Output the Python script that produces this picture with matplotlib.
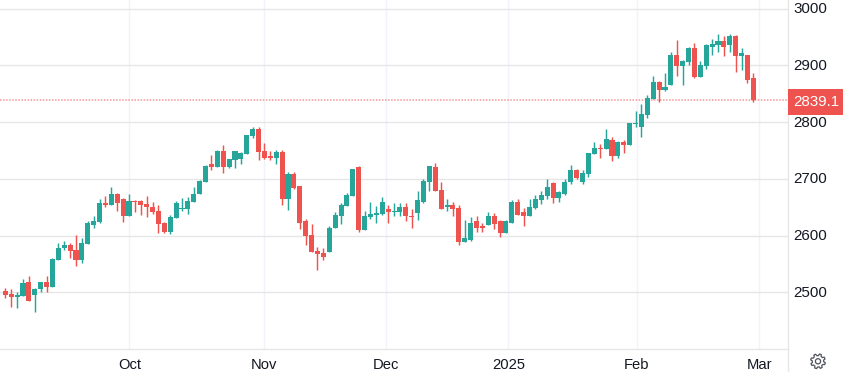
import numpy as np
import matplotlib
matplotlib.use("Agg")
import matplotlib.pyplot as plt
from matplotlib.patches import Circle, Polygon, Rectangle
from matplotlib.transforms import ScaledTranslation

opens = [2502, 2497, 2492, 2494, 2518, 2495, 2506, 2518, 2509, 2557, 2578, 2583, 2575, 2557, 2585, 2619,
         2624, 2657, 2654, 2673, 2664, 2635, 2661, 2661, 2656, 2650, 2643, 2622, 2606, 2631, 2647, 2647,
         2659, 2673, 2694, 2726, 2720, 2749, 2720, 2733, 2735, 2743, 2775, 2787, 2749, 2740, 2736, 2747,
         2664, 2708, 2687, 2625, 2601, 2572, 2569, 2571, 2613, 2634, 2652, 2669, 2720, 2609, 2632, 2636,
         2638, 2646, 2641, 2642, 2651, 2635, 2639, 2660, 2695, 2720, 2681, 2651, 2653, 2648, 2588, 2593,
         2625, 2616, 2618, 2634, 2625, 2605, 2623, 2660, 2642, 2634, 2649, 2662, 2669, 2692, 2667, 2674,
         2694, 2715, 2695, 2709, 2743, 2755, 2753, 2768, 2741, 2764, 2759, 2796, 2792, 2813, 2840, 2870,
         2857, 2866, 2919, 2898, 2905, 2931, 2879, 2898, 2933, 2935, 2942, 2935, 2951, 2917, 2919, 2877]
highs = [2508, 2506, 2501, 2523, 2529, 2508, 2518, 2529, 2561, 2587, 2590, 2587, 2601, 2596, 2626, 2635,
         2664, 2670, 2686, 2675, 2666, 2673, 2663, 2663, 2670, 2659, 2654, 2624, 2636, 2661, 2666, 2668,
         2686, 2698, 2724, 2742, 2750, 2759, 2735, 2749, 2747, 2777, 2791, 2791, 2763, 2749, 2750, 2750,
         2712, 2712, 2687, 2629, 2620, 2579, 2578, 2616, 2641, 2657, 2675, 2717, 2722, 2643, 2659, 2652,
         2668, 2653, 2657, 2658, 2657, 2646, 2678, 2699, 2722, 2727, 2694, 2665, 2660, 2653, 2627, 2632,
         2634, 2623, 2641, 2639, 2628, 2628, 2662, 2665, 2649, 2665, 2671, 2679, 2699, 2694, 2679, 2699,
         2725, 2718, 2715, 2746, 2764, 2761, 2787, 2773, 2766, 2768, 2799, 2819, 2831, 2847, 2882, 2873,
         2887, 2923, 2944, 2910, 2933, 2940, 2907, 2937, 2947, 2956, 2951, 2956, 2953, 2931, 2919, 2886]
lows = [2490, 2474, 2472, 2494, 2485, 2465, 2501, 2501, 2509, 2557, 2575, 2561, 2546, 2552, 2585, 2613,
        2622, 2650, 2654, 2643, 2624, 2635, 2642, 2636, 2633, 2638, 2605, 2605, 2603, 2631, 2643, 2638,
        2659, 2673, 2694, 2715, 2720, 2710, 2719, 2719, 2726, 2743, 2772, 2733, 2735, 2733, 2726, 2653,
        2645, 2682, 2611, 2583, 2571, 2539, 2557, 2571, 2613, 2620, 2652, 2669, 2606, 2609, 2629, 2622,
        2636, 2623, 2635, 2634, 2625, 2614, 2628, 2658, 2678, 2678, 2646, 2644, 2634, 2584, 2588, 2591,
        2607, 2607, 2618, 2612, 2597, 2604, 2623, 2637, 2616, 2634, 2646, 2655, 2664, 2658, 2660, 2671,
        2690, 2699, 2690, 2704, 2743, 2736, 2753, 2731, 2736, 2745, 2759, 2792, 2773, 2808, 2840, 2835,
        2854, 2866, 2882, 2866, 2901, 2877, 2879, 2893, 2919, 2924, 2917, 2923, 2889, 2891, 2868, 2835]
closes = [2495, 2492, 2495, 2516, 2485, 2506, 2518, 2509, 2559, 2578, 2583, 2573, 2557, 2587, 2622, 2626,
          2657, 2654, 2673, 2657, 2635, 2661, 2659, 2654, 2650, 2642, 2620, 2606, 2633, 2657, 2649, 2661,
          2673, 2696, 2722, 2720, 2749, 2720, 2735, 2749, 2745, 2777, 2787, 2747, 2736, 2736, 2747, 2664,
          2708, 2683, 2623, 2599, 2571, 2567, 2562, 2613, 2636, 2653, 2671, 2717, 2609, 2634, 2638, 2639,
          2659, 2641, 2644, 2651, 2634, 2632, 2662, 2697, 2722, 2679, 2646, 2653, 2646, 2588, 2595, 2623,
          2614, 2614, 2634, 2620, 2605, 2625, 2660, 2637, 2634, 2651, 2664, 2671, 2686, 2667, 2676, 2695,
          2715, 2701, 2711, 2745, 2755, 2753, 2771, 2741, 2764, 2759, 2798, 2798, 2815, 2842, 2870, 2857,
          2861, 2919, 2898, 2907, 2931, 2880, 2900, 2935, 2937, 2942, 2933, 2951, 2917, 2921, 2875, 2839.1]

y_ticks = [2500, 2600, 2700, 2800, 2900, 3000]
x_labels = ["Oct", "Nov", "Dec", "2025", "Feb", "Mar"]
x_ticks = [21.05, 43.97, 64.7, 85.4, 107.2, 128.0]
last_price = closes[-1]

GREEN = "#26a69a"
RED = "#ef5350"
TEXT = "#131722"

plt.rcParams["font.family"] = ["Liberation Sans", "DejaVu Sans"]

W, H = 843, 372
fig = plt.figure(figsize=(W / 100, H / 100), dpi=100, facecolor="white")
ax = fig.add_axes([0, (H - 349) / H, 787.5 / W, 349 / H])

idx = np.arange(len(opens))
o = np.array(opens)
c = np.array(closes)
colors = [GREEN if b >= a else RED for a, b in zip(opens, closes)]

# wicks then bodies
ax.vlines(idx, lows, highs, colors=colors, linewidth=1.05, zorder=3)
ax.bar(idx, np.abs(c - o), bottom=np.minimum(o, c), width=0.86, color=colors, linewidth=0, zorder=4)

# last price line
ax.axhline(last_price, color=RED, alpha=0.6, linewidth=1.1, linestyle=(0, (1, 1)), zorder=2)

ax.set_xlim(-0.9, 132.8)
ax.set_ylim(2400.1, 3015.1)
ax.set_xticks(x_ticks)
ax.set_xticklabels(x_labels)
ax.set_yticks(y_ticks)
ax.yaxis.tick_right()
ax.tick_params(axis="x", length=0, pad=6.5, labelsize=10.6, labelcolor=TEXT)
ax.tick_params(axis="y", length=0, pad=4.2, labelsize=10.9, labelcolor=TEXT)
ax.grid(axis="x", color="#f0f3fa", linewidth=1, zorder=0)
ax.grid(axis="y", color="#e6e6e6", linewidth=1, zorder=0)
ax.set_axisbelow(True)
for s in ["top", "left"]:
    ax.spines[s].set_visible(False)
for s in ["bottom", "right"]:
    ax.spines[s].set_color("#e6e6e6")
    ax.spines[s].set_linewidth(1)

# y labels sit a pixel above their gridline
up = ScaledTranslation(0, 1 / 100, fig.dpi_scale_trans)
for lab in ax.get_yticklabels():
    lab.set_transform(lab.get_transform() + up)

# overlay in pixel coords for price tag and settings icon
top = fig.add_axes([0, 0, 1, 1], facecolor="none")
top.set_xlim(0, W)
top.set_ylim(H, 0)
top.axis("off")
top.plot([787.5, 787.5], [349, 372], color="#e6e6e6", linewidth=1)
top.add_patch(Rectangle((788, 89), 55, 26, facecolor=RED, edgecolor="none"))
top.text(816, 102.5, "%.1f" % last_price, color="white", fontsize=10.9, ha="center", va="center")

ang = np.linspace(0, 2 * np.pi, 48, endpoint=False) + np.pi / 16
rad = np.where((np.arange(48) % 6) < 3, 7.4, 5.7)
top.add_patch(Polygon(np.c_[818 + rad * np.cos(ang), 361.3 + rad * np.sin(ang)], closed=True,
                      fill=False, edgecolor="#50535e", linewidth=0.9))
top.add_patch(Circle((818, 361.3), 2.6, fill=False, edgecolor="#50535e", linewidth=0.9))

fig.savefig("out.png", dpi=100)
